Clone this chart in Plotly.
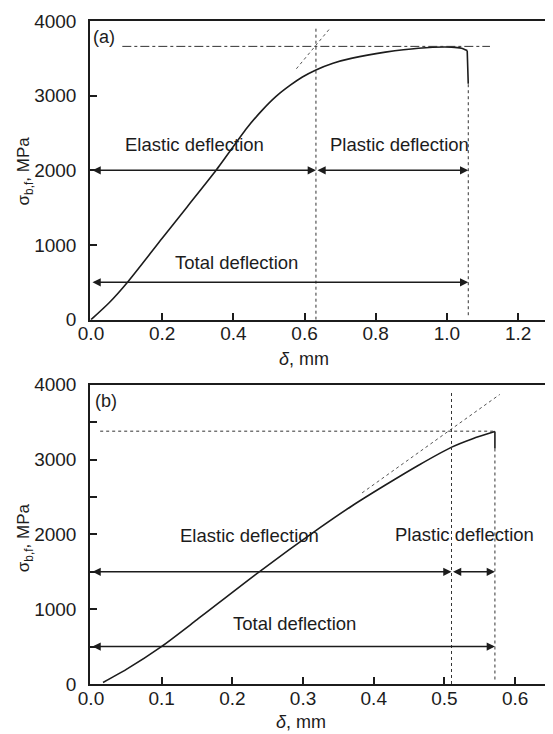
import plotly.graph_objects as go
from plotly.subplots import make_subplots

# ---------------- data ----------------
# panel (a)
delta_a = [0, 0.051, 0.105, 0.2, 0.27, 0.352, 0.437, 0.478, 0.52, 0.56, 0.594, 0.632,
           0.68, 0.734, 0.827, 0.92, 1.013, 1.041, 1.057, 1.06]
sigma_a = [0, 227, 516, 1090, 1510, 2004, 2560, 2790, 2990, 3140, 3250, 3345,
           3435, 3503, 3583, 3636, 3650, 3636, 3604, 3160]
peak_a = 3660
peak_line_a_x = [0.088, 1.121]
elastic_end_a = 0.632
total_end_a = 1.06
tangent_a_x = [0.577, 0.674]
tangent_a_y = [3360, 3916]
arrow_upper_y_a = 2000
arrow_lower_y_a = 500
label_a = {"Elastic deflection": (0.291, 2347),
           "Plastic deflection": (0.867, 2347),
           "Total deflection": (0.41, 770)}

# panel (b)
delta_b = [0.017, 0.05, 0.0996, 0.15, 0.238, 0.3225, 0.369, 0.4165, 0.4634, 0.5103,
           0.54, 0.5714, 0.5714]
sigma_b = [20, 195, 500, 860, 1500, 2080, 2380, 2660, 2925, 3167, 3280, 3375, 3150]
peak_b = 3380
peak_line_b_x = [0.013, 0.5714]
elastic_end_b = 0.51
total_end_b = 0.5714
tangent_b_x = [0.3835, 0.5783]
tangent_b_y = [2555, 3871]
arrow_upper_y_b = 1500
arrow_lower_y_b = 500
label_b = {"Elastic deflection": (0.224, 1990),
           "Plastic deflection": (0.529, 2003),
           "Total deflection": (0.2885, 810)}

x_ticks_a = [0.0, 0.2, 0.4, 0.6, 0.8, 1.0, 1.2]
x_ticks_b = [0.0, 0.1, 0.2, 0.3, 0.4, 0.5, 0.6]
y_ticks = [0, 1000, 2000, 3000, 4000]

# ---------------- figure ----------------
FONT = "Liberation Sans, Arial, sans-serif"
INK = "#1c1c1c"
OFF = 8                     # default page body margin
W, H = 553 - OFF, 734 - OFF
ML, MR, MT, MB = 90 - OFF, 3, 17 - OFF, 50

fig = make_subplots(rows=2, cols=1, vertical_spacing=0.0)
PH = H - MT - MB
top_dom = [(H - MB - (317.5 - OFF)) / PH, 1.0]
bot_dom = [0.0, (H - MB - (383 - OFF)) / PH]


def add_panel(row, dx, sy, peak, peak_x, e_end, t_end, tx, ty, up_y, lo_y, labels,
              peak_dash, xref, yref):
    line_style = dict(color=INK, width=1.6, shape="spline", smoothing=0.6)
    fig.add_trace(go.Scatter(x=dx[:-1], y=sy[:-1], mode="lines", line=line_style,
                             showlegend=False, hoverinfo="skip"), row=row, col=1)
    fig.add_trace(go.Scatter(x=dx[-2:], y=sy[-2:], mode="lines",
                             line=dict(color=INK, width=1.6),
                             showlegend=False, hoverinfo="skip"), row=row, col=1)
    # horizontal peak line
    fig.add_trace(go.Scatter(x=peak_x, y=[peak, peak], mode="lines",
                             line=dict(color="#333", width=1, dash=peak_dash),
                             showlegend=False, hoverinfo="skip"), row=row, col=1)
    # tangent (extrapolated elastic line)
    fig.add_trace(go.Scatter(x=tx, y=ty, mode="lines",
                             line=dict(color="#555", width=1, dash="dot"),
                             showlegend=False, hoverinfo="skip"), row=row, col=1)
    # vertical markers
    fig.add_trace(go.Scatter(x=[e_end, e_end], y=[0, 3930], mode="lines",
                             line=dict(color="#333", width=1, dash="dot"),
                             showlegend=False, hoverinfo="skip"), row=row, col=1)
    fig.add_trace(go.Scatter(x=[t_end, t_end], y=[60, sy[-1]], mode="lines",
                             line=dict(color="#333", width=1, dash="dot"),
                             showlegend=False, hoverinfo="skip"), row=row, col=1)
    # arrows
    for x0, x1, yy in [(0, e_end, up_y), (e_end, t_end, up_y), (0, t_end, lo_y)]:
        fig.add_annotation(x=x1, y=yy, ax=x0, ay=yy, xref=xref, yref=yref,
                           axref=xref, ayref=yref, text="", showarrow=True,
                           arrowhead=2, arrowside="end+start", arrowsize=1.1,
                           arrowwidth=1.5, arrowcolor=INK, standoff=0,
                           startstandoff=0)
    for txt, (lx, ly) in labels.items():
        fig.add_annotation(x=lx, y=ly, xref=xref, yref=yref, text=txt,
                           showarrow=False, font=dict(family=FONT, size=18.5,
                                                      color=INK))


add_panel(1, delta_a, sigma_a, peak_a, peak_line_a_x, elastic_end_a, total_end_a,
          tangent_a_x, tangent_a_y, arrow_upper_y_a, arrow_lower_y_a, label_a,
          "dashdot", "x", "y")
add_panel(2, delta_b, sigma_b, peak_b, peak_line_b_x, elastic_end_b, total_end_b,
          tangent_b_x, tangent_b_y, arrow_upper_y_b, arrow_lower_y_b, label_b,
          "dot", "x2", "y2")

# panel letters
fig.add_annotation(x=0.036, y=3790, xref="x", yref="y", text="(a)", showarrow=False,
                   font=dict(family=FONT, size=18, color=INK))
fig.add_annotation(x=0.021, y=3787, xref="x2", yref="y2", text="(b)", showarrow=False,
                   font=dict(family=FONT, size=18, color=INK))

axis_common = dict(showline=True, mirror=True, linecolor=INK, linewidth=1.5,
                   ticks="inside", ticklen=7, tickwidth=1.5, tickcolor=INK,
                   showgrid=False, zeroline=False,
                   tickfont=dict(family=FONT, size=19, color=INK))

fig.update_xaxes(**axis_common, row=1, col=1, range=[-0.0028, 1.284],
                 tickvals=x_ticks_a, ticktext=[f"{v:.1f}" for v in x_ticks_a],
                 ticklabelstandoff=-4)
fig.update_xaxes(**axis_common, row=2, col=1, range=[-0.0014, 0.6465],
                 tickvals=x_ticks_b, ticktext=[f"{v:.1f}" for v in x_ticks_b],
                 ticklabelstandoff=-4)
fig.update_yaxes(**axis_common, row=1, col=1, range=[0, 4000], domain=top_dom,
                 tickvals=y_ticks, ticklabelstandoff=8)
fig.update_yaxes(**axis_common, row=2, col=1, range=[0, 4000], domain=bot_dom,
                 tickvals=y_ticks, ticklabelstandoff=8,
                 minor=dict(dtick=500, ticks="inside", ticklen=7, tickwidth=1.5,
                            tickcolor=INK))


# axis titles as annotations (page-pixel placement)
def px_x(p):
    return (p - OFF - ML) / (W - ML - MR)


def px_y(p):
    return (H - MB - (p - OFF)) / PH


for cy in (168, 537):
    fig.add_annotation(x=px_x(25), y=px_y(cy), xref="paper", yref="paper",
                       xanchor="center", yanchor="middle",
                       text="σ<sub>b,f</sub>, MPa", textangle=-90, showarrow=False,
                       font=dict(family=FONT, size=17, color=INK))
for cx, cy in ((305, 357), (302, 722)):
    fig.add_annotation(x=px_x(cx), y=px_y(cy), xref="paper", yref="paper",
                       xanchor="center", yanchor="middle",
                       text="<i>δ</i>, mm", showarrow=False,
                       font=dict(family=FONT, size=18, color=INK))

fig.update_layout(width=W, height=H, margin=dict(l=ML, r=MR, t=MT, b=MB),
                  paper_bgcolor="white", plot_bgcolor="white", showlegend=False)

fig.write_html("out.html")
